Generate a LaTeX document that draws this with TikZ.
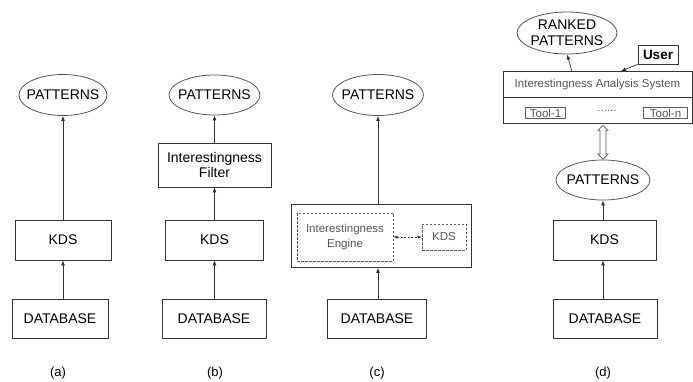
\documentclass[tikz,border=0pt]{standalone}
\usepackage{fontspec}
\setmainfont{Liberation Sans}
\usetikzlibrary{shapes.geometric,arrows.meta,calc}
\definecolor{edge}{HTML}{333333}
\definecolor{oedge}{HTML}{555555}
\definecolor{gtext}{HTML}{555555}
\begin{document}
\begin{tikzpicture}[x=1pt,y=-1pt,
  every node/.style={font=\fontsize{14}{15.5}\selectfont, text=black},
  box/.style={draw=edge, line width=0.8pt, inner sep=0pt, align=center},
  oval/.style={ellipse, draw=oedge, line width=0.8pt, inner sep=0pt},
  dbox/.style={draw=edge!80, line width=0.7pt, dash pattern=on 2.5pt off 1.5pt, inner sep=0pt, align=center,
    font=\fontsize{11.5}{15}\selectfont, text=gtext},
  small/.style={font=\fontsize{11.5}{14}\selectfont, text=gtext},
  arr/.style={draw=edge, line width=0.7pt, -{Latex[length=5pt,width=4pt]}},
  sublabel/.style={font=\fontsize{13}{15}\selectfont}]
\useasboundingbox (0,0) rectangle (693,382);

% (a)
\node[oval, minimum width=88, minimum height=41, label={center:PATTERNS}] (pa) at (63,95) {};
\node[box, minimum width=96, minimum height=40] (kdsa) at (63,240) {KDS};
\node[box, minimum width=96, minimum height=39] (dba) at (60,318.5) {DATABASE};
\draw[arr] (kdsa.south |- dba.north) -- (kdsa.south);
\draw[arr] (kdsa.north) -- (pa.south);
\node[sublabel] (la) at (58,373) {(a)};

% (b)
\node[oval, minimum width=91, minimum height=40, label={center:PATTERNS}] (pb) at (214.5,95) {};
\node[box, minimum width=113, minimum height=44] (filt) at (214.5,165) {Interestingness\\Filter};
\node[box, minimum width=98, minimum height=40] (kdsb) at (214.5,240) {KDS};
\node[box, minimum width=104, minimum height=39] (dbb) at (214,318.5) {DATABASE};
\draw[arr] (kdsb.south |- dbb.north) -- (kdsb.south);
\draw[arr] (kdsb.north) -- (filt.south);
\draw[arr] (filt.north) -- (pb.south);
\node[sublabel] (lb) at (215,373) {(b)};

% (c)
\node[oval, minimum width=91, minimum height=41, label={center:PATTERNS}] (pc) at (378,95) {};
\node[box, minimum width=180, minimum height=63] (outer) at (381,236) {};
\node[dbox, minimum width=96, minimum height=48] (eng) at (345,237) {Interestingness\\Engine};
\node[dbox, minimum width=44, minimum height=26] (kdsc) at (444,237) {KDS};
\draw[draw=edge, line width=0.7pt, dash pattern=on 2pt off 1.5pt, {Latex[length=4pt,width=3.5pt]}-{Latex[length=4pt,width=3.5pt]}] (eng.east) -- (kdsc.west);
\node[box, minimum width=99, minimum height=39] (dbc) at (377,318.5) {DATABASE};
\draw[arr] (pc.south |- dbc.north) -- (pc.south |- outer.south);
\draw[arr] (pc.south |- outer.north) -- (pc.south);
\node[sublabel] (lc) at (377,373) {(c)};

% (d)
\node[oval, minimum width=100, minimum height=42, align=center, label={[align=center]center:RANKED\\PATTERNS}] (rp) at (567,33) {};
\node[box, minimum width=40, minimum height=19, font=\bfseries\fontsize{13.5}{15}\selectfont] (user) at (658,54.5) {User};
\node[box, minimum width=189, minimum height=25.5, small] (iast) at (597.5,84.25) {Interestingness Analysis System};
\node[box, minimum width=189, minimum height=26.5] (iasb) at (597.5,110.25) {};
\node[draw=edge!80, line width=0.6pt, minimum width=40, minimum height=11, inner sep=0pt, small] (t1) at (545.5,113) {Tool-1};
\node[draw=edge!80, line width=0.6pt, minimum width=44, minimum height=11, inner sep=0pt, small] (tn) at (665.5,113) {Tool-n};
\node[small] (dots) at (607,111) {......};
\coordinate (ut) at ($(iast.north west)!0.624!(iast.north east)$);
\coordinate (rt) at ($(iast.north west)!0.365!(iast.north east)$);
\draw[arr] (user.south west) -- (ut);
\draw[arr] (rt) -- (rp.south);
\node[oval, minimum width=94, minimum height=40, label={center:PATTERNS}] (pd) at (603,180) {};
\node[box, minimum width=103, minimum height=40] (kdsd) at (604.5,240) {KDS};
\node[box, minimum width=104, minimum height=39] (dbd) at (605,318.5) {DATABASE};
\draw[arr] (pd.south |- dbd.north) -- (pd.south |- kdsd.south);
\draw[arr] (pd.south |- kdsd.north) -- (pd.south);
\coordinate (dt) at ($(iasb.south -| pd.north)+(0,1.5)$);
\coordinate (dbt) at ($(pd.north)+(0,-0.5)$);
\draw[draw=oedge, line width=0.7pt, fill=white] (dt) -- ++(5,5) -- ++(-2,0) -- ($(dbt)+(3,-5)$) -- ++(2,0) -- (dbt)
  -- ++(-5,-5) -- ++(2,0) -- ($(dt)+(-3,5)$) -- ++(-2,0) -- cycle;
\node[sublabel] (ld) at (603,373) {(d)};
\end{tikzpicture}
\end{document}
